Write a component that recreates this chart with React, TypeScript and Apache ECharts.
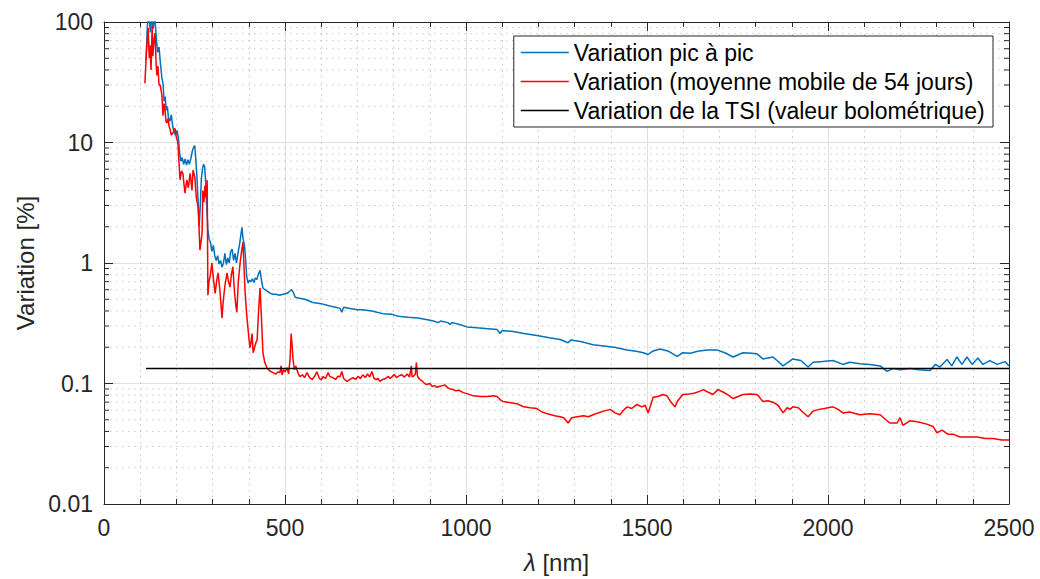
import React, { useEffect, useRef } from "react";
import * as echarts from "echarts";

const X_MIN = 0;
const X_MAX = 2500;
const X_INTERVAL = 500;
const Y_MIN = 0.01;
const Y_MAX = 100;

const SERIES_NAMES = [
  "Variation pic à pic",
  "Variation (moyenne mobile de 54 jours)",
  "Variation de la TSI (valeur bolométrique)",
];

const MINOR_Y = [
  0.02, 0.03, 0.04, 0.05, 0.06, 0.07, 0.08, 0.09,
  0.2, 0.3, 0.4, 0.5, 0.6, 0.7, 0.8, 0.9,
  2, 3, 4, 5, 6, 7, 8, 9,
  20, 30, 40, 50, 60, 70, 80, 90,
];

const TSI_VALUE = 0.133;
const TSI_RANGE = [116, 2500];

const PEAK_TO_PEAK: [number, number][] = [
  [116, 48], [120, 95], [124, 115], [128, 82], [132, 110], [136, 88], [140, 115], [144, 77], [148, 56], [152, 62],
  [156, 45], [160, 34], [163, 31], [166, 22], [169, 24], [172, 18.5], [175, 20], [178, 16], [182, 15], [186, 17],
  [190, 13.5], [194, 12], [198, 11.5], [202, 12.6], [206, 10.5], [209, 8.2], [212, 7.0], [216, 7.5], [220, 6.6],
  [224, 7.3], [228, 6.5], [232, 7.2], [236, 6.6], [240, 7.4], [244, 8.5], [248, 9.2], [251, 9.4], [254, 7.0],
  [257, 5.0], [260, 3.2], [263, 2.0], [266, 3.0], [269, 5.0], [272, 6.0], [275, 6.6], [278, 6.3], [281, 4.6],
  [284, 2.8], [287, 1.9], [290, 1.6], [294, 1.48], [298, 1.25], [302, 1.4], [306, 1.15], [310, 1.05], [314, 1.15],
  [318, 0.98], [322, 1.05], [326, 0.92], [330, 1.0], [334, 1.2], [338, 0.97], [342, 1.1], [346, 1.0], [350, 1.25],
  [354, 1.3], [358, 1.05], [362, 1.2], [366, 1.0], [370, 1.2], [374, 1.4], [378, 1.7], [381, 1.98], [384, 1.6],
  [388, 1.4], [391, 1.1], [394, 0.78], [398, 0.68], [402, 0.72], [406, 0.7], [410, 0.74], [414, 0.69], [418, 0.75],
  [422, 0.73], [426, 0.8], [431, 0.87], [435, 0.72], [439, 0.62], [445, 0.6], [452, 0.58], [460, 0.56], [467, 0.55],
  [475, 0.55], [485, 0.54], [495, 0.55], [506, 0.56], [512, 0.58], [519, 0.6], [524, 0.56], [528, 0.52], [540, 0.51],
  [555, 0.5], [577, 0.47], [600, 0.46], [624, 0.44], [640, 0.43], [652, 0.42], [657, 0.39], [662, 0.43], [680, 0.42],
  [700, 0.41], [715, 0.41], [740, 0.4], [770, 0.38], [795, 0.375], [809, 0.364], [820, 0.36], [840, 0.355],
  [867, 0.35], [890, 0.34], [910, 0.33], [923, 0.32], [930, 0.33], [950, 0.32], [956, 0.31], [962, 0.32],
  [980, 0.31], [1003, 0.295], [1030, 0.29], [1060, 0.285], [1086, 0.28], [1094, 0.26], [1100, 0.275], [1130, 0.27],
  [1160, 0.26], [1196, 0.25], [1230, 0.24], [1260, 0.232], [1282, 0.218], [1290, 0.23], [1320, 0.222], [1351, 0.21],
  [1380, 0.205], [1410, 0.2], [1445, 0.19], [1470, 0.185], [1490, 0.18], [1503, 0.174], [1515, 0.185], [1536, 0.193],
  [1560, 0.185], [1583, 0.168], [1599, 0.18], [1620, 0.178], [1640, 0.185], [1666, 0.19], [1693, 0.19], [1715, 0.18],
  [1738, 0.166], [1765, 0.18], [1790, 0.178], [1804, 0.176], [1820, 0.16], [1848, 0.166], [1876, 0.14], [1903, 0.16],
  [1925, 0.155], [1945, 0.137], [1959, 0.15], [1985, 0.152], [2014, 0.155], [2041, 0.144], [2060, 0.15], [2088, 0.146],
  [2115, 0.144], [2144, 0.14], [2163, 0.126], [2180, 0.133], [2200, 0.13], [2226, 0.133], [2250, 0.13], [2282, 0.128],
  [2296, 0.144], [2309, 0.137], [2329, 0.158], [2342, 0.14], [2356, 0.166], [2370, 0.144], [2384, 0.166], [2398, 0.144],
  [2414, 0.163], [2428, 0.144], [2447, 0.155], [2467, 0.144], [2489, 0.152], [2500, 0.14],
];

const MOVING_AVG: [number, number][] = [
  [113, 31], [117, 55], [122, 89], [125, 50], [127, 64], [130, 40], [133, 93], [135, 52], [138, 70], [141, 81],
  [144, 45], [146, 36], [149, 43], [152, 30], [155, 30], [158, 27], [160, 24.5], [163, 16.7], [166, 21], [168, 20],
  [171, 15], [174, 14.6], [177, 15.8], [180, 13.5], [182, 13.1], [186, 11.5], [191, 12.1], [196, 13.1], [200, 11],
  [204, 10], [207, 7], [210, 4.9], [214, 5.8], [218, 5.55], [221, 4.5], [224, 3.8], [227, 4.5], [229, 4.9], [233, 4.2],
  [238, 5.55], [243, 4.0], [246, 5.9], [251, 5.15], [255, 3.5], [260, 2.9], [263, 1.8], [265, 1.28], [268, 1.5],
  [271, 1.77], [273, 4.0], [276, 3.2], [279, 4.4], [282, 3.5], [285, 4.87], [287, 0.54], [290, 0.7], [294, 0.8],
  [298, 1.0], [302, 0.75], [307, 0.56], [311, 0.7], [315, 0.83], [320, 0.6], [326, 0.35], [329, 0.47], [334, 0.65],
  [340, 0.83], [344, 0.7], [348, 0.63], [352, 0.8], [356, 0.93], [360, 0.6], [364, 0.45], [367, 0.39], [371, 0.7],
  [376, 1.0], [380, 1.25], [384, 1.49], [387, 0.9], [390, 0.56], [394, 0.38], [398, 0.28], [403, 0.198], [406, 0.22],
  [409, 0.26], [412, 0.18], [416, 0.2], [420, 0.22], [423, 0.23], [427, 0.4], [431, 0.62], [435, 0.35], [439, 0.18],
  [444, 0.15], [450, 0.135], [458, 0.127], [467, 0.123], [475, 0.12], [481, 0.125], [486, 0.123], [489, 0.14],
  [492, 0.118], [496, 0.13], [500, 0.125], [506, 0.135], [510, 0.12], [514, 0.16], [517, 0.26], [520, 0.2],
  [522, 0.16], [526, 0.13], [530, 0.14], [533, 0.13], [537, 0.12], [541, 0.114], [548, 0.118], [554, 0.112],
  [561, 0.123], [568, 0.112], [575, 0.108], [582, 0.115], [588, 0.125], [595, 0.11], [600, 0.107], [605, 0.114],
  [612, 0.11], [619, 0.123], [624, 0.114], [632, 0.112], [640, 0.108], [646, 0.115], [652, 0.114], [657, 0.126],
  [662, 0.11], [671, 0.104], [680, 0.108], [688, 0.112], [695, 0.108], [702, 0.115], [708, 0.11], [715, 0.118],
  [722, 0.112], [728, 0.12], [734, 0.113], [740, 0.126], [746, 0.11], [752, 0.108], [757, 0.11], [762, 0.104],
  [770, 0.108], [778, 0.11], [785, 0.115], [790, 0.11], [796, 0.114], [802, 0.119], [808, 0.112], [815, 0.116],
  [823, 0.118], [830, 0.113], [838, 0.12], [844, 0.113], [849, 0.14], [851, 0.114], [855, 0.115], [860, 0.12],
  [863, 0.149], [866, 0.115], [870, 0.11], [873, 0.108], [880, 0.104], [886, 0.1], [892, 0.098], [900, 0.1],
  [906, 0.095], [913, 0.096], [920, 0.093], [928, 0.095], [935, 0.096], [942, 0.097], [950, 0.092], [957, 0.09],
  [964, 0.089], [972, 0.087], [980, 0.088], [992, 0.084], [1005, 0.082], [1020, 0.079], [1039, 0.078], [1060, 0.078],
  [1075, 0.079], [1086, 0.078], [1095, 0.073], [1102, 0.071], [1115, 0.07], [1128, 0.069], [1141, 0.068],
  [1150, 0.066], [1160, 0.064], [1177, 0.063], [1196, 0.062], [1210, 0.058], [1225, 0.056], [1245, 0.054],
  [1260, 0.053], [1270, 0.052], [1282, 0.047], [1292, 0.052], [1307, 0.053], [1325, 0.054], [1338, 0.053],
  [1351, 0.055], [1365, 0.057], [1380, 0.059], [1398, 0.061], [1412, 0.057], [1425, 0.055], [1435, 0.06],
  [1445, 0.064], [1458, 0.062], [1472, 0.067], [1486, 0.064], [1495, 0.066], [1503, 0.057], [1510, 0.066],
  [1517, 0.077], [1530, 0.078], [1544, 0.081], [1555, 0.079], [1565, 0.071], [1577, 0.064], [1585, 0.072],
  [1599, 0.081], [1615, 0.082], [1630, 0.083], [1645, 0.086], [1655, 0.089], [1668, 0.085], [1682, 0.081],
  [1696, 0.089], [1710, 0.085], [1725, 0.08], [1738, 0.075], [1752, 0.078], [1765, 0.081], [1785, 0.082],
  [1804, 0.081], [1812, 0.076], [1820, 0.071], [1834, 0.072], [1848, 0.07], [1862, 0.066], [1876, 0.057],
  [1887, 0.063], [1895, 0.061], [1903, 0.064], [1918, 0.063], [1930, 0.058], [1945, 0.053], [1959, 0.059],
  [1975, 0.061], [1990, 0.062], [2014, 0.064], [2028, 0.061], [2041, 0.057], [2060, 0.058], [2088, 0.055],
  [2115, 0.056], [2144, 0.055], [2160, 0.05], [2171, 0.047], [2191, 0.047], [2199, 0.052], [2207, 0.045],
  [2226, 0.049], [2250, 0.048], [2273, 0.046], [2290, 0.044], [2301, 0.039], [2315, 0.041], [2331, 0.038],
  [2345, 0.038], [2365, 0.036], [2390, 0.036], [2412, 0.036], [2435, 0.035], [2456, 0.035], [2480, 0.034],
  [2500, 0.034],
];

const FONT = "'Liberation Sans', Arial, Helvetica, sans-serif";
const AXIS_COLOR = "#262626";

export default function App() {
  const ref = useRef<HTMLDivElement>(null);

  useEffect(() => {
    if (!ref.current) return;
    const chart = echarts.init(ref.current, undefined, { renderer: "svg" });

    const fmtY = (v: number) => String(Number(Number(v).toPrecision(6)));
    const fmtX = (v: number) => String(Math.round(v));

    const commonX = {
      type: "value" as const,
      min: X_MIN,
      max: X_MAX,
      interval: X_INTERVAL,
      axisLine: { show: true, onZero: false, lineStyle: { color: AXIS_COLOR, width: 1 } },
      axisTick: { show: true, inside: true, length: 9, lineStyle: { color: AXIS_COLOR } },
      minorTick: { show: true, splitNumber: 5, length: 5, lineStyle: { color: AXIS_COLOR } },
    };
    const commonY = {
      type: "log" as const,
      logBase: 10,
      min: Y_MIN,
      max: Y_MAX,
      axisLine: { show: true, onZero: false, lineStyle: { color: AXIS_COLOR, width: 1 } },
      axisTick: { show: true, inside: true, length: 9, lineStyle: { color: AXIS_COLOR } },
    };

    const option: any = {
      animation: false,
      backgroundColor: "#ffffff",
      textStyle: { fontFamily: FONT },
      grid: { left: 104, right: 31, top: 22, bottom: 64, containLabel: false },
      legend: {
        data: SERIES_NAMES.map((n) => ({ name: n, icon: "rect" })),
        orient: "vertical",
        right: 47,
        top: 36,
        backgroundColor: "#ffffff",
        borderColor: AXIS_COLOR,
        borderWidth: 1,
        borderRadius: 0,
        padding: [5, 8, 5, 7],
        itemGap: 6,
        itemWidth: 48,
        itemHeight: 1.5,
        textStyle: { fontFamily: FONT, fontSize: 23, color: "#000000", lineHeight: 23 },
      },
      xAxis: [
        {
          ...commonX,
          position: "bottom",
          name: "{i|λ} [nm]",
          nameLocation: "middle",
          nameGap: 46,
          nameTextStyle: {
            fontFamily: FONT,
            fontSize: 24,
            color: AXIS_COLOR,
            rich: {
              i: { fontFamily: FONT, fontSize: 24, fontStyle: "italic", color: AXIS_COLOR },
            },
          },
          axisLabel: { show: true, fontFamily: FONT, fontSize: 23, color: AXIS_COLOR, margin: 12, formatter: fmtX },
          splitLine: { show: true, lineStyle: { color: "#dfdfdf", width: 1 } },
          minorSplitLine: { show: true, lineStyle: { color: "#c8c8c8", width: 1, type: [1.5, 4.5] } },
        },
        {
          ...commonX,
          position: "top",
          axisLabel: { show: false },
          splitLine: { show: false },
        },
      ],
      yAxis: [
        {
          ...commonY,
          position: "left",
          name: "Variation [%]",
          nameLocation: "middle",
          nameGap: 66,
          nameTextStyle: { fontFamily: FONT, fontSize: 24, color: AXIS_COLOR },
          axisLabel: { show: true, fontFamily: FONT, fontSize: 23, color: AXIS_COLOR, margin: 11, formatter: fmtY },
          splitLine: { show: true, lineStyle: { color: "#dfdfdf", width: 1 } },
        },
        {
          ...commonY,
          position: "right",
          axisLabel: { show: false },
          splitLine: { show: false },
        },
      ],
      series: [
        {
          type: "custom",
          silent: true,
          z: 1,
          xAxisIndex: 0,
          yAxisIndex: 0,
          data: MINOR_Y.map((v) => [X_MIN, v]),
          encode: { x: 0, y: 1 },
          renderItem: (_params: any, api: any) => {
            const v = api.value(1);
            const p1 = api.coord([X_MIN, v]);
            const p2 = api.coord([X_MAX, v]);
            return {
              type: "group",
              children: [
                {
                  type: "line",
                  shape: { x1: p1[0], y1: p1[1], x2: p2[0], y2: p2[1] },
                  style: { stroke: "#c8c8c8", lineWidth: 1, lineDash: [1.5, 4.5] },
                },
                {
                  type: "line",
                  shape: { x1: p1[0], y1: p1[1], x2: p1[0] + 5, y2: p1[1] },
                  style: { stroke: AXIS_COLOR, lineWidth: 1 },
                },
                {
                  type: "line",
                  shape: { x1: p2[0] - 5, y1: p2[1], x2: p2[0], y2: p2[1] },
                  style: { stroke: AXIS_COLOR, lineWidth: 1 },
                },
              ],
            };
          },
        },
        {
          name: SERIES_NAMES[0],
          type: "line",
          z: 3,
          data: PEAK_TO_PEAK,
          symbol: "none",
          showSymbol: false,
          clip: true,
          lineStyle: { color: "#0072BD", width: 1.5 },
          itemStyle: { color: "#0072BD" },
        },
        {
          name: SERIES_NAMES[1],
          type: "line",
          z: 4,
          data: MOVING_AVG,
          symbol: "none",
          showSymbol: false,
          clip: true,
          lineStyle: { color: "#FF0000", width: 1.5 },
          itemStyle: { color: "#FF0000" },
        },
        {
          name: SERIES_NAMES[2],
          type: "line",
          z: 5,
          data: [
            [TSI_RANGE[0], TSI_VALUE],
            [TSI_RANGE[1], TSI_VALUE],
          ],
          symbol: "none",
          showSymbol: false,
          clip: true,
          lineStyle: { color: "#000000", width: 1.5 },
          itemStyle: { color: "#000000" },
        },
      ],
    };

    chart.setOption(option);
    return () => chart.dispose();
  }, []);

  return (
    <div
      ref={ref}
      style={{ position: "fixed", left: 0, top: 0, width: 1040, height: 579, background: "#fff" }}
    />
  );
}
